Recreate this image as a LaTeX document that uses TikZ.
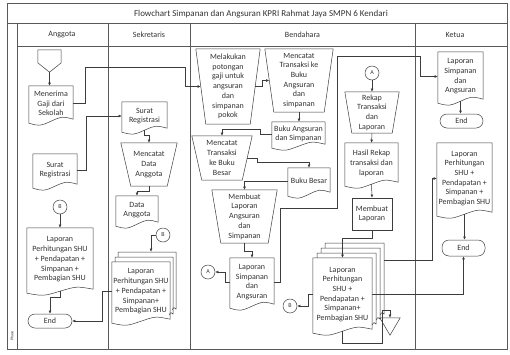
\documentclass[tikz,border=0pt]{standalone}
\usepackage{fontspec}
\setmainfont{Carlito}
\usetikzlibrary{arrows.meta,calc}
\definecolor{ln}{HTML}{3C3C3C}
\definecolor{tx}{HTML}{333333}
\tikzset{
 shp/.style={draw=ln, line width=.5pt},
 body/.style={inner sep=0pt, align=center, text=tx, font=\fontsize{8}{9.7}\selectfont},
 term/.style={body, draw=ln, line width=.5pt, rounded corners=7pt},
 cir/.style={circle, draw=ln, line width=.5pt, inner sep=0pt, minimum size=14pt, text=tx, font=\fontsize{6}{6}\selectfont},
 arr/.style={draw=ln, line width=.5pt, -{Latex[length=3.2pt,width=2.8pt]}},
 frm/.style={draw=ln!85, line width=.6pt},
 box/.style={body, draw=ln, line width=.5pt},
 hdr/.style={text=tx, font=\fontsize{8}{9}\selectfont},
}
\newcommand\docnode[6]{%
 \pgfmathsetmacro\myW{#4-#2}\pgfmathsetmacro\myH{#5-#3}%
 \pgfmathsetmacro\myX{(#2+#4)/2}\pgfmathsetmacro\myY{(#3+#5)/2}%
 \node[body, minimum width=\myW pt, minimum height=\myH pt] (#1) at (\myX,\myY) {#6};
 \draw[shp] (#1.north west) -- (#1.north east) -- ($(#1.south east)+(0,-2)$)
   .. controls ($(#1.south)!0.5!(#1.south east)+(0,-5)$) .. (#1.south)
   .. controls ($(#1.south)!0.5!(#1.south west)+(0,5)$) .. ($(#1.south west)+(0,2)$) -- cycle;
}
\newcommand\trapnode[7]{%
 \pgfmathsetmacro\myW{#4-#2}\pgfmathsetmacro\myH{#5-#3}%
 \pgfmathsetmacro\myX{(#2+#4)/2}\pgfmathsetmacro\myY{(#3+#5)/2}%
 \node[body, minimum width=\myW pt, minimum height=\myH pt] (#1) at (\myX,\myY) {#7};
 \draw[shp] (#1.north west) -- (#1.north east) -- ($(#1.south east)+(-#6,0)$) -- ($(#1.south west)+(#6,0)$) -- cycle;
}
\newcommand\backpage[6]{% x0 y0 x1 yb dx dy (offset of this page)
 \draw[shp] (#1+#5,#2+#6+5) -- (#1+#5,#2+#6) -- (#3+#5,#2+#6) -- (#3+#5,#4-2+#6)
   .. controls (#3+#5-2,#4-4+#6) .. (#3+#5-4,#4-1+#6);
}
\begin{document}
\begin{tikzpicture}[x=1pt,y=-1pt]
\fill[white] (0,0) rectangle (510,354);
\useasboundingbox (0,0) rectangle (510,354);
% frame
\draw[frm] (7,3) rectangle (507,349);
\draw[frm] (7,23) -- (507,23);
\draw[frm] (17,23) -- (17,349);
\draw[frm] (17,46) -- (507,46);
\draw[frm] (108,23) -- (108,349);
\draw[frm] (190,23) -- (190,349);
\draw[frm] (415,23) -- (415,349);
\node[text=tx, font=\fontsize{9}{10}\selectfont] (title) at (261,14) {Flowchart Simpanan dan Angsuran KPRI Rahmat Jaya SMPN 6 Kendari};
\node[hdr] (hA) at (62,35) {Anggota};
\node[hdr] (hS) at (149,35) {Sekretaris};
\node[hdr] (hB) at (302.5,35) {Bendahara};
\node[hdr] (hK) at (455,35) {Ketua};
\node[rotate=90, text=tx, font=\fontsize{4}{4}\selectfont] (ph) at (12,336) {Phase};

% ---------- Anggota
\node[inner sep=0pt, minimum width=23pt, minimum height=22pt] (offA) at (49.5,61) {};
\draw[shp] (offA.north west) -- (offA.north east) -- ($(offA.north east)+(0,13)$) -- (offA.south) -- ($(offA.north west)+(0,13)$) -- cycle;
\docnode{docM}{29}{86}{73}{121}{Menerima\\Gaji dari\\Sekolah}
\docnode{srA}{33}{154}{77}{186}{Surat\\Registrasi}
\node[cir] (cB0) at (60,207) {B};
\docnode{lpA}{27}{228}{93}{291}{Laporan\\Perhitungan SHU\\+ Pendapatan +\\Simpanan +\\Pembagian SHU}
\node[term, minimum width=44pt, minimum height=14pt] (end1) at (50,321) {End};

% ---------- Sekretaris
\docnode{srS}{122}{102}{167}{130}{Surat\\Registrasi}
\trapnode{mda}{121}{143}{177}{186}{10}{Mencatat\\Data\\Anggota}
\docnode{daS}{116}{196}{158}{224}{Data\\Anggota}
\node[cir] (cB1) at (163,235) {B};
\backpage{112}{262}{170}{321}{6}{-10}
\backpage{112}{262}{170}{321}{3}{-5}
\docnode{mdS}{112}{262}{170}{321}{Laporan\\Perhitungan SHU\\+ Pendapatan +\\Simpanan+\\Pembagian SHU}

% ---------- Bendahara
\trapnode{melak}{196}{49}{260}{124}{10}{Melakukan\\potongan\\gaji untuk\\angsuran\\dan\\simpanan\\pokok}
\trapnode{mct}{265}{49}{333}{112}{9}{Mencatat\\Transaksi ke\\Buku\\Angsuran\\dan\\simpanan}
\docnode{bukuA}{272}{122}{325}{146}{Buku Angsuran\\dan Simpanan}
\trapnode{mcb}{192}{136}{252}{180}{10}{Mencatat\\Transaksi\\ke Buku\\Besar}
\docnode{bukuB}{288}{168}{330}{194}{Buku Besar}
\trapnode{mla}{212}{190}{277}{243}{9}{Membuat\\Laporan\\Angsuran\\dan\\Simpanan}
\docnode{lsa}{230}{258}{274}{306}{Laporan\\Simpanan\\dan\\Angsuran}
\node[cir] (cA1) at (208,272) {A};
\node[cir] (cA2) at (372,73) {A};
\trapnode{rekap}{345}{92}{399}{133}{7}{Rekap\\Transaksi\\dan\\Laporan}
\docnode{hasil}{345}{143}{398}{184}{Hasil Rekap\\transaksi dan\\laporan}
\node[box, minimum width=40pt, minimum height=32pt] (mbl) at (372,214) {Membuat\\Laporan};
\backpage{313}{258}{372}{331}{12}{-15}
\backpage{313}{258}{372}{331}{8}{-10}
\backpage{313}{258}{372}{331}{4}{-5}
\coordinate (mdBr) at (384,260);
\docnode{mdB}{313}{258}{372}{331}{Laporan\\Perhitungan\\SHU +\\Pendapatan +\\Simpanan+\\Pembagian SHU}
\node[cir] (cB2) at (290,306) {B};
\node[inner sep=0pt, minimum width=20pt, minimum height=17pt] (tri) at (390,326.5) {};
\draw[shp] (tri.north west) -- (tri.north east) -- (tri.south) -- cycle;

% ---------- Ketua
\docnode{lsaK}{438}{52}{483}{101}{Laporan\\Simpanan\\dan\\Angsuran}
\node[term, minimum width=43pt, minimum height=14pt] (endK1) at (461.5,121) {End};
\docnode{lpK}{437}{143}{492}{214}{Laporan\\Perhitungan\\SHU +\\Pendapatan +\\Simpanan +\\Pembagian SHU}
\node[term, minimum width=43pt, minimum height=16pt] (endK2) at (463.5,248) {End};

% ---------- connectors
\draw[arr] (offA.south) -- (offA.south |- docM.north);
\draw[arr] (docM.east) -- ++(12,0) |- (185,67) |- ($(melak.west)+(5,0)$);
\draw[arr] (srA.east) -- ++(9,0) |- (srS.west);
\draw[arr] (cB0) -- (lpA.north);
\draw[arr] (lpA.south) -- ++(0,6) -| (end1.north);
\draw[arr] (srS.south) -- ++(0,5) -| (mda.north);
\draw[arr] (mda.south) -- ++(0,5) -| (daS.north);
\draw[arr] (cB1.west) -| ($(mdS.north)+(10,-10)$);
\draw[arr] (mdS.west) -- ++(-10,0) |- (end1.east);
\draw[arr] ($(melak.east)+(-5,0)$) -- ++(7,0) |- ($(mct.west)+(4.5,0)$);
\draw[arr] (mct.south) -- (mct.south |- bukuA.north);
\draw[arr] (bukuA.west) -- ++(-12,0) |- ($(mcb.north)+(0,-7)$) -- (mcb.north);
\draw[arr] ($(mcb.east)+(-5,0)$) -- ++(10,0) |- ($(bukuB.north)+(0,-6)$) -- (bukuB.north);
\draw[arr] (bukuB.west) -| (mla.north);
\draw[arr] (mla.south) -- ++(0,8) -| (lsa.north);
\draw[arr] (lsa.west) -- ++(-5,0) |- (cA1.east);
\draw[arr] (lsa.east) -- ++(6,0) |- (337,208) |- (420,56) |- (lsaK.west);
\draw[arr] (cA2) -- (rekap.north);
\draw[arr] (rekap.south) -- (hasil.north);
\draw[arr] (hasil.south) -- (mbl.north);
\draw[arr] (mbl.south) -- ++(0,8) -| (mdB.north);
\draw[arr] (mdB.west) -- ++(-5,0) |- (cB2.east);
\draw[arr] (mdB.east) -| (endK2.south);
\draw[arr] (mdBr) -- (432,260) |- (lpK.west);
\draw[arr] (mdB.south) -- ++(0,12) -| ($(tri.north)+(-8,-8)$) -| (tri.north);
\draw[arr] (lsaK.south) -- (lsaK.south |- endK1.north);
\draw[arr] (lpK.south) -- (lpK.south |- endK2.north);
\end{tikzpicture}
\end{document}
